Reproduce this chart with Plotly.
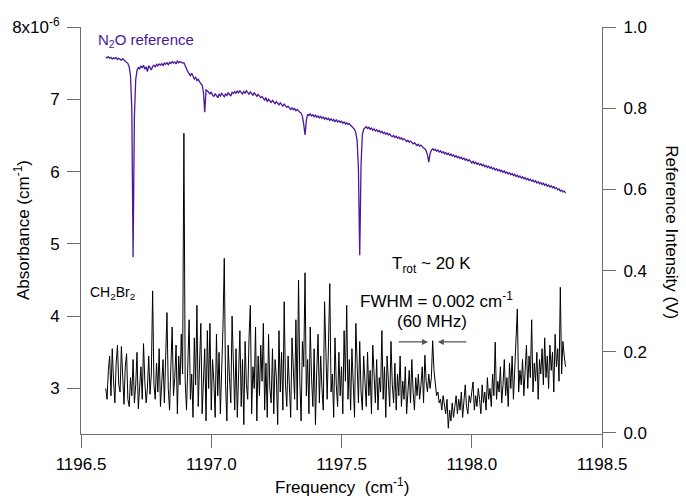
import numpy as np
import plotly.graph_objects as go

# Frequency sampling grid (cm^-1)
FREQ_START = 1196.595
FREQ_STEP = 0.005

# CH2Br2 absorbance, units of 1e-6 cm^-1
absorbance = [
    3.00, 2.85, 3.25, 3.45, 2.90, 3.55, 3.10, 2.80, 3.35, 3.60, 3.05, 2.95, 3.58, 3.20, 2.78, 3.30, 3.48, 2.85, 2.75, 3.15,
    2.90, 3.40, 2.80, 3.05, 3.50, 2.72, 2.95, 3.30, 2.85, 3.62, 3.10, 2.80, 3.00, 3.45, 2.92, 3.20, 4.35, 3.05, 2.85, 3.35,
    2.95, 3.55, 2.75, 3.10, 3.40, 2.80, 3.65, 4.05, 3.00, 2.70, 3.30, 3.85, 2.90, 3.15, 3.60, 2.65, 3.45, 3.05, 3.75, 3.20,
    6.53, 3.10, 2.70, 3.45, 3.95, 2.85, 3.20, 2.60, 3.70, 3.05, 4.15, 2.75, 3.35, 3.90, 2.65, 3.15, 3.55, 2.55, 3.80, 3.00,
    3.90, 2.70, 3.40, 3.10, 2.60, 3.75, 2.90, 3.50, 2.65, 3.25, 3.85, 4.80, 3.05, 2.55, 3.60, 3.15, 2.80, 4.00, 3.35, 2.70,
    3.55, 2.60, 3.20, 3.80, 2.75, 3.40, 2.50, 3.65, 3.05, 2.85, 3.70, 4.15, 2.65, 3.30, 3.00, 3.85, 2.55, 3.45, 2.90, 3.60,
    3.10, 3.90, 2.70, 3.35, 2.60, 3.75, 3.00, 2.80, 3.55, 2.65, 3.40, 3.15, 2.50, 3.80, 2.95, 3.50, 2.70, 4.20, 3.05, 2.75,
    3.45, 3.00, 2.60, 3.70, 3.20, 2.85, 3.95, 2.70, 4.50, 3.10, 2.55, 3.65, 3.30, 4.60, 2.90, 3.40, 2.65, 3.85, 3.15, 2.75,
    3.55, 2.50, 3.25, 3.75, 2.80, 3.45, 3.00, 2.70, 4.20, 3.35, 2.85, 3.60, 4.45, 2.95, 3.20, 2.60, 3.70, 3.05, 2.75, 3.50,
    2.90, 3.30, 2.65, 3.80, 3.10, 4.15, 2.85, 3.40, 2.70, 3.55, 3.00, 2.60, 3.90, 3.20, 2.80, 3.65, 2.95, 2.70, 3.45, 3.10,
    2.75, 3.50, 2.90, 3.25, 2.65, 3.60, 3.05, 2.80, 3.40, 2.70, 3.15, 2.95, 3.80, 2.85, 3.30, 2.60, 3.45, 3.00, 2.75, 3.65,
    3.05, 2.80, 3.35, 2.70, 3.20, 2.90, 3.45, 2.75, 3.10, 2.85, 3.30, 2.65, 3.00, 3.25, 2.80, 3.40, 2.95, 2.70, 3.15, 2.90,
    3.20, 2.85, 3.05, 3.30, 2.80, 3.46, 3.10, 2.95, 3.20, 3.00, 3.15, 3.66, 3.25, 3.05, 2.90, 2.95, 2.80, 2.85, 2.70, 2.90,
    2.75, 2.65, 2.85, 2.45, 2.70, 2.55, 2.80, 2.60, 2.75, 2.90, 2.65, 2.85, 2.70, 2.95, 2.60, 2.80, 3.05, 2.75, 2.65, 2.90,
    2.80, 2.95, 3.09, 2.70, 2.90, 2.75, 3.00, 2.85, 2.65, 3.05, 2.80, 2.95, 2.70, 3.15, 2.85, 3.00, 2.75, 3.20, 2.90, 3.64,
    2.85, 3.10, 2.95, 3.30, 2.80, 3.05, 3.40, 2.90, 3.15, 2.75, 3.35, 3.00, 3.45, 2.85, 3.20, 3.55, 4.10, 2.95, 3.25, 3.05,
    3.40, 2.90, 3.30, 3.60, 3.00, 3.45, 3.15, 3.95, 2.95, 3.35, 3.10, 3.50, 2.85, 3.40, 3.20, 3.55, 3.05, 3.70, 3.15, 3.45,
    3.00, 3.60, 3.25, 3.50, 2.95, 3.75, 3.30, 3.55, 3.10, 4.40, 3.20, 3.65, 3.45, 3.30,
]

# N2O reference intensity (V)
reference = [
    0.926, 0.924, 0.927, 0.923, 0.925, 0.921, 0.924, 0.922, 0.925, 0.920, 0.923, 0.921, 0.918, 0.922, 0.919, 0.916, 0.914, 0.910, 0.902, 0.880,
    0.800, 0.433, 0.780, 0.870, 0.893, 0.900, 0.897, 0.904, 0.899, 0.906, 0.896, 0.902, 0.890, 0.905, 0.900, 0.894, 0.903, 0.906, 0.901, 0.908,
    0.904, 0.909, 0.906, 0.910, 0.905, 0.911, 0.908, 0.912, 0.907, 0.913, 0.910, 0.915, 0.911, 0.914, 0.909, 0.916, 0.912, 0.915, 0.913, 0.911,
    0.912, 0.903, 0.895, 0.890, 0.885, 0.880, 0.886, 0.878, 0.872, 0.876, 0.868, 0.871, 0.865, 0.860, 0.857, 0.840, 0.790, 0.845, 0.843, 0.838,
    0.835, 0.840, 0.832, 0.829, 0.836, 0.831, 0.826, 0.834, 0.830, 0.837, 0.833, 0.828, 0.835, 0.831, 0.838, 0.834, 0.830, 0.839, 0.836, 0.841,
    0.837, 0.842, 0.838, 0.843, 0.839, 0.835, 0.841, 0.837, 0.843, 0.838, 0.834, 0.840, 0.836, 0.832, 0.838, 0.833, 0.829, 0.834, 0.830, 0.826,
    0.829, 0.824, 0.820, 0.826, 0.816, 0.822, 0.818, 0.814, 0.819, 0.815, 0.811, 0.816, 0.812, 0.808, 0.813, 0.809, 0.805, 0.810, 0.806, 0.802,
    0.805, 0.800, 0.797, 0.801, 0.796, 0.799, 0.794, 0.797, 0.793, 0.790, 0.788, 0.780, 0.760, 0.734, 0.770, 0.785, 0.782, 0.786, 0.781, 0.784,
    0.779, 0.783, 0.778, 0.781, 0.776, 0.780, 0.775, 0.778, 0.773, 0.777, 0.772, 0.775, 0.770, 0.774, 0.769, 0.772, 0.767, 0.771, 0.766, 0.769,
    0.765, 0.768, 0.763, 0.766, 0.761, 0.764, 0.760, 0.762, 0.758, 0.755, 0.752, 0.748, 0.740, 0.720, 0.650, 0.438, 0.660, 0.735, 0.748, 0.752,
    0.755, 0.750, 0.753, 0.748, 0.751, 0.746, 0.749, 0.744, 0.747, 0.742, 0.745, 0.740, 0.743, 0.738, 0.741, 0.736, 0.739, 0.734, 0.737, 0.732,
    0.730, 0.733, 0.728, 0.731, 0.726, 0.729, 0.724, 0.727, 0.722, 0.725, 0.720, 0.718, 0.721, 0.716, 0.719, 0.714, 0.712, 0.715, 0.710, 0.708,
    0.711, 0.706, 0.709, 0.704, 0.702, 0.700, 0.695, 0.685, 0.667, 0.688, 0.697, 0.700, 0.696, 0.699, 0.694, 0.697, 0.692, 0.695, 0.690, 0.693,
    0.688, 0.691, 0.686, 0.689, 0.684, 0.687, 0.682, 0.685, 0.680, 0.683, 0.678, 0.681, 0.676, 0.679, 0.674, 0.677, 0.672, 0.675, 0.670, 0.673,
    0.668, 0.665, 0.669, 0.664, 0.667, 0.662, 0.665, 0.660, 0.663, 0.658, 0.661, 0.656, 0.659, 0.654, 0.657, 0.652, 0.655, 0.650, 0.653, 0.648,
    0.651, 0.646, 0.649, 0.644, 0.647, 0.642, 0.645, 0.640, 0.643, 0.638, 0.641, 0.636, 0.639, 0.634, 0.637, 0.632, 0.635, 0.630, 0.633, 0.628,
    0.631, 0.626, 0.629, 0.624, 0.627, 0.622, 0.625, 0.620, 0.623, 0.618, 0.621, 0.616, 0.619, 0.614, 0.617, 0.612, 0.615, 0.610, 0.613, 0.608,
    0.611, 0.606, 0.609, 0.604, 0.607, 0.602, 0.604, 0.599, 0.601, 0.596, 0.598, 0.594, 0.596, 0.591,
]

x_ticks = [1196.5, 1197.0, 1197.5, 1198.0, 1198.5]
x_ticktext = ["1196.5", "1197.0", "1197.5", "1198.0", "1198.5"]
y_ticks = [3, 4, 5, 6, 7, 8]
y_ticktext = ["3", "4", "5", "6", "7", "8x10<sup>-6</sup>"]
y2_ticks = [0.0, 0.2, 0.4, 0.6, 0.8, 1.0]
y2_ticktext = ["0.0", "0.2", "0.4", "0.6", "0.8", "1.0"]

freq_abs = np.round(FREQ_START + FREQ_STEP * np.arange(len(absorbance)), 4)
freq_ref = np.round(FREQ_START + FREQ_STEP * np.arange(len(reference)), 4)

FONT = "Liberation Sans, Arial, Helvetica, sans-serif"
AXIS_GRAY = "#6e6e6e"
PURPLE = "#4a189a"

fig = go.Figure()
fig.add_trace(go.Scatter(x=freq_abs, y=absorbance, mode="lines",
                         line=dict(color="black", width=1), yaxis="y", showlegend=False))
fig.add_trace(go.Scatter(x=freq_ref, y=reference, mode="lines",
                         line=dict(color=PURPLE, width=1.3), yaxis="y2", showlegend=False))

axis_common = dict(showgrid=False, zeroline=False, showline=True, linecolor=AXIS_GRAY,
                   linewidth=1, ticks="outside", ticklen=13, tickcolor=AXIS_GRAY, tickwidth=1,
                   tickfont=dict(family=FONT, size=17, color="black"))

fig.update_layout(
    width=686, height=498,
    margin=dict(l=78, r=84, t=27, b=64),
    plot_bgcolor="white", paper_bgcolor="white",
    font=dict(family=FONT, size=17, color="black"),
    xaxis=dict(range=[1196.5, 1198.5], tickvals=x_ticks, ticktext=x_ticktext,
               ticklabelstandoff=2, **axis_common),
    yaxis=dict(range=[2.37, 8.0], tickvals=y_ticks, ticktext=y_ticktext,
               ticklabelstandoff=4, **axis_common),
    yaxis2=dict(range=[-0.0025, 1.0], tickvals=y2_ticks, ticktext=y2_ticktext,
                overlaying="y", side="right", ticklabelstandoff=4, **axis_common),
)

annotations = [
    dict(text="Frequency  (cm<sup>-1</sup>)", xref="paper", yref="paper", x=0.5, y=-0.128,
         showarrow=False, font=dict(size=17), xanchor="center", yanchor="middle"),
    dict(text="Absorbance (cm<sup>-1</sup>)", xref="paper", yref="paper", x=-0.114, y=0.5,
         showarrow=False, textangle=-90, font=dict(size=17), xanchor="center", yanchor="middle"),
    dict(text="Reference Intensity (V)", xref="paper", yref="paper", x=1.134, y=0.496,
         showarrow=False, textangle=90, font=dict(size=17), xanchor="center", yanchor="middle"),
    dict(text="N<sub>2</sub>O reference", xref="x", yref="y", x=1196.557, y=7.82,
         showarrow=False, font=dict(size=15, color=PURPLE), xanchor="left", yanchor="middle"),
    dict(text="CH<sub>2</sub>Br<sub>2</sub>", xref="x", yref="y", x=1196.527, y=4.32,
         showarrow=False, font=dict(size=14), xanchor="left", yanchor="middle"),
    dict(text="T<sub>rot</sub> ~ 20 K", xref="x", yref="y", x=1197.844, y=4.71,
         showarrow=False, font=dict(size=17), xanchor="center", yanchor="middle"),
    dict(text="FWHM = 0.002 cm<sup>-1</sup>", xref="x", yref="y", x=1197.863, y=4.22,
         showarrow=False, font=dict(size=17), xanchor="center", yanchor="middle"),
    dict(text="(60 MHz)", xref="x", yref="y", x=1197.847, y=3.92,
         showarrow=False, font=dict(size=17), xanchor="center", yanchor="middle"),
    # FWHM arrows
    dict(text="", xref="x", yref="y", x=1197.832, y=3.643, axref="x", ayref="y",
         ax=1197.714, ay=3.643, showarrow=True, arrowhead=2, arrowsize=1, arrowwidth=1.2,
         arrowcolor="#555555"),
    dict(text="", xref="x", yref="y", x=1197.870, y=3.643, axref="x", ayref="y",
         ax=1197.985, ay=3.643, showarrow=True, arrowhead=2, arrowsize=1, arrowwidth=1.2,
         arrowcolor="#555555"),
]
fig.update_layout(annotations=annotations)

fig.write_html("out.html", config={"displayModeBar": False},
               post_script="document.body.style.margin='0';document.body.style.padding='0';")
